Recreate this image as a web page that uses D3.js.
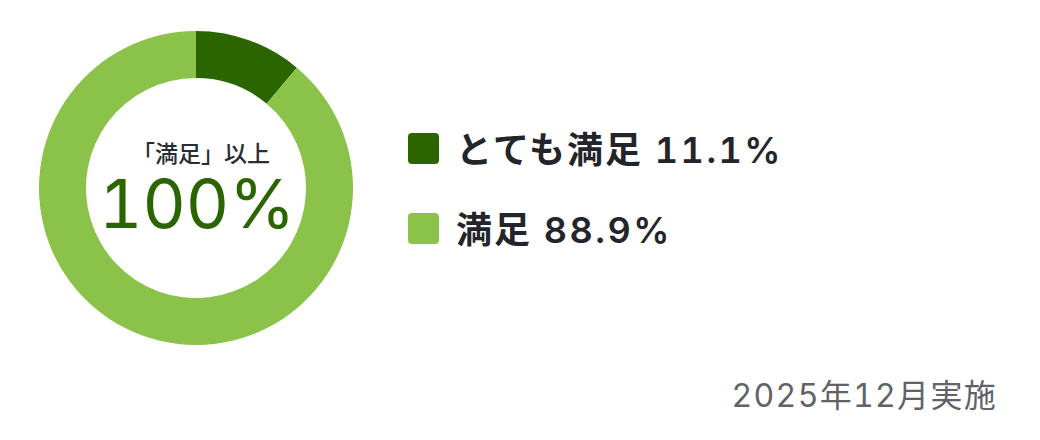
<!DOCTYPE html>
<html>
<head>
<meta charset="utf-8">
<script src="https://cdn.jsdelivr.net/npm/d3@7"></script>
<style>
  html, body { margin: 0; padding: 0; background: #fff; }
  text { font-family: "Inter", "Noto Sans CJK JP", sans-serif; font-variant-numeric: tabular-nums; font-feature-settings: "tnum" 1; }
</style>
</head>
<body>
<svg></svg>
<script>
// data
const labels = ["とても満足", "満足"];
const values = [11.1, 88.9];
const colors = ["#2b6500", "#8bc34a"];
const centerLabel = "「満足」以上";
const centerValue = "100%";
const note = "2025年12月実施";

(function donut() {
  const width = 1040, height = 440;
  const svg = d3.select("svg")
      .attr("width", width)
      .attr("height", height)
      .attr("viewBox", "0 0 " + width + " " + height);

  const cx = 196, cy = 188;
  const outerR = 157, innerR = 110;

  const pie = d3.pie().sort(null).value(d => d);
  const arc = d3.arc().innerRadius(innerR).outerRadius(outerR);

  const g = svg.append("g").attr("transform", `translate(${cx},${cy})`);
  g.selectAll("path")
      .data(pie(values))
      .join("path")
      .attr("d", arc)
      .attr("fill", (d, i) => colors[i]);

  // center text
  g.append("text")
      .attr("text-anchor", "middle")
      .attr("x", 5)
      .attr("y", -26)
      .style("font-size", "23px")
      .style("font-weight", 500)
      .style("fill", "#2a2d34")
      .text(centerLabel);
  g.append("text")
      .attr("text-anchor", "middle")
      .attr("x", 1)
      .attr("y", 40)
      .style("font-size", "67px")
      .style("font-weight", 400)
      .style("fill", colors[0])
      .text(centerValue);

  // legend
  const y = d3.scaleBand().domain(labels).range([128, 288]).padding(0);
  const leg = svg.append("g").selectAll("g")
      .data(labels)
      .join("g")
      .attr("transform", d => `translate(408,${y(d)})`);
  leg.append("rect")
      .attr("width", 31).attr("height", 31)
      .attr("y", 5)
      .attr("rx", 4)
      .attr("fill", (d, i) => colors[i]);
  const lt = leg.append("text")
      .attr("x", 48)
      .attr("y", 35)
      .style("font-size", "36px")
      .style("font-weight", 600)
      .style("fill", "#23252b");
  lt.append("tspan")
      .style("letter-spacing", "2px")
      .text(d => d + " ");
  lt.append("tspan")
      .style("letter-spacing", "2.5px")
      .text((d, i) => values[i].toFixed(1) + "%");

  svg.append("text")
      .attr("text-anchor", "end")
      .attr("x", 997)
      .attr("y", 407)
      .style("font-size", "32px")
      .style("letter-spacing", "1.3px")
      .style("fill", "#5f6368")
      .text(note);
})();
</script>
</body>
</html>
